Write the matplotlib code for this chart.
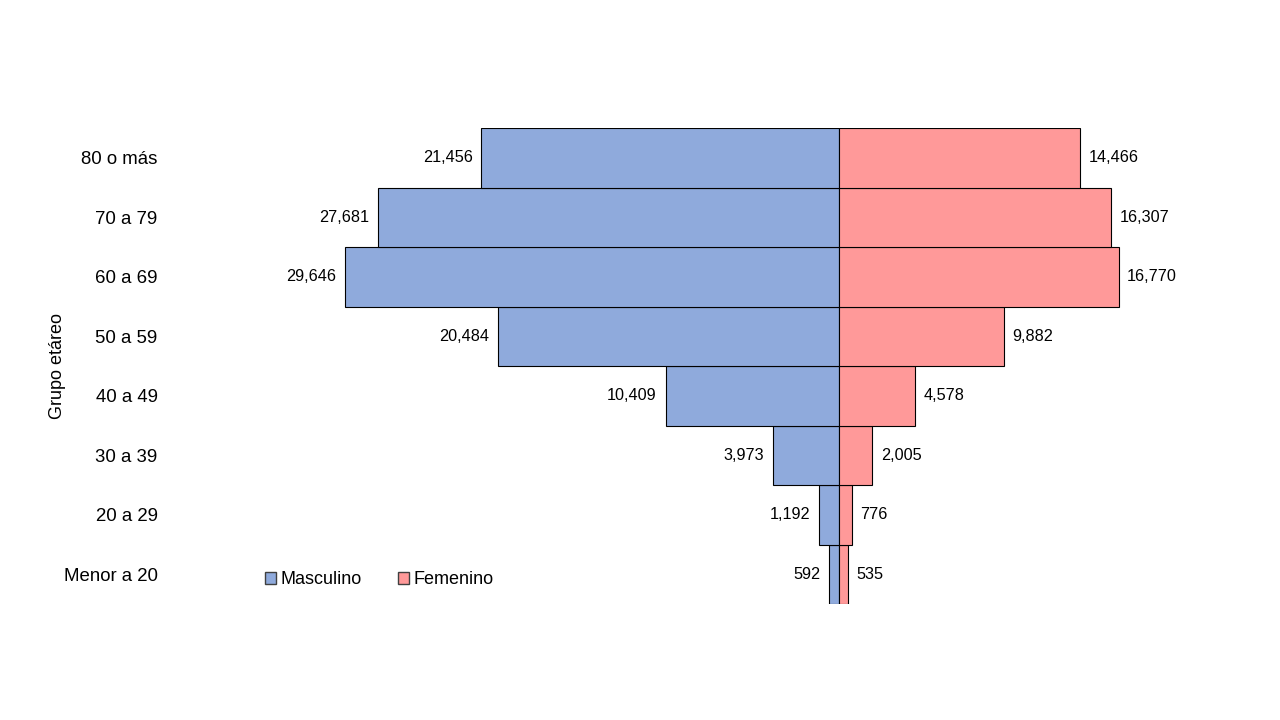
import matplotlib.pyplot as plt
from matplotlib.patches import Patch

plt.rcParams['font.family'] = ['Liberation Sans', 'DejaVu Sans']

# Age groups, bottom to top
grupos = ['Menor a 20', '20 a 29', '30 a 39', '40 a 49', '50 a 59', '60 a 69', '70 a 79', '80 o más']
masculino = [592, 1192, 3973, 10409, 20484, 29646, 27681, 21456]
femenino = [535, 776, 2005, 4578, 9882, 16770, 16307, 14466]

azul = '#8FAADC'
rosa = '#FF9999'

fig = plt.figure(figsize=(12.8, 7.2), dpi=100)
ax = fig.add_axes([170 / 1280, 1 - 604 / 720, (1230 - 170) / 1280, 476 / 720])

pos = range(len(grupos))
ax.barh(pos, [-m for m in masculino], height=1.0, color=azul, edgecolor='black', linewidth=0.8)
ax.barh(pos, femenino, height=1.0, color=rosa, edgecolor='black', linewidth=0.8)

off = 520
for i, (m, f) in enumerate(zip(masculino, femenino)):
    ax.text(-m - off, i, f'{m:,}', ha='right', va='center', fontsize=11.7)
    ax.text(f + off, i, f'{f:,}', ha='left', va='center', fontsize=11.7)

ax.set_xlim(-(839 - 170) * 60.0, (1230 - 839) * 60.0)
ax.set_ylim(-0.5, len(grupos) - 0.5)
ax.set_yticks(list(pos))
ax.set_yticklabels(grupos, fontsize=13.4)
ax.tick_params(axis='y', length=0, pad=9)
ax.set_xticks([])
for s in ax.spines.values():
    s.set_visible(False)
ax.set_ylabel('Grupo etáreo', fontsize=13)
ax.yaxis.set_label_coords((66 - 170) / 1060, (604 - 366) / 476)

handles = [Patch(facecolor=azul, edgecolor='#404040', label='Masculino'),
           Patch(facecolor=rosa, edgecolor='#404040', label='Femenino')]
ax.legend(handles=handles, loc='center left', bbox_to_anchor=((258 - 170) / 1060, (604 - 580) / 476),
          ncol=2, frameon=False, fontsize=13, handlelength=0.6, handleheight=0.6,
          handletextpad=0.25, columnspacing=2.0, borderaxespad=0)

fig.savefig('out.png', dpi=100)
